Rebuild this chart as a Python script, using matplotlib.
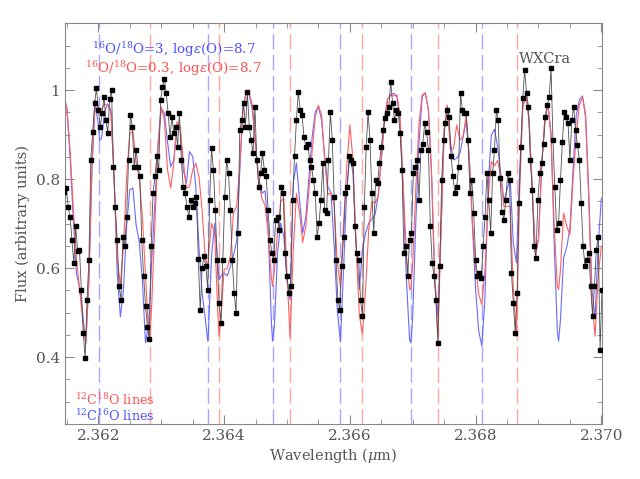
import matplotlib
matplotlib.use('Agg')
import matplotlib.pyplot as plt
from matplotlib.ticker import MultipleLocator, FormatStrFormatter, FuncFormatter

plt.rcParams['font.family'] = 'DejaVu Serif'
plt.rcParams['mathtext.fontset'] = 'dejavuserif'

# line centres (micron)
c16o_lines = [2.362017, 2.363736, 2.364770, 2.365841, 2.366966, 2.368105]
c18o_lines = [2.362823, 2.363920, 2.365045, 2.366196, 2.367395, 2.368652]

# observed spectrum
data_wl = [
    2.36146, 2.36149, 2.36152, 2.36155, 2.36158, 2.36161, 2.36164, 2.36167, 2.36170, 2.36173,
    2.36176, 2.36179, 2.36182, 2.36185, 2.36188, 2.36191, 2.36194, 2.36197, 2.36200, 2.36203,
    2.36206, 2.36209, 2.36212, 2.36215, 2.36218, 2.36221, 2.36224, 2.36227, 2.36230, 2.36233,
    2.36236, 2.36239, 2.36242, 2.36245, 2.36248, 2.36251, 2.36254, 2.36257, 2.36260, 2.36263,
    2.36266, 2.36269, 2.36272, 2.36275, 2.36278, 2.36281, 2.36284, 2.36287, 2.36290, 2.36293,
    2.36296, 2.36299, 2.36302, 2.36305, 2.36308, 2.36311, 2.36314, 2.36317, 2.36320, 2.36323,
    2.36326, 2.36329, 2.36332, 2.36335, 2.36338, 2.36341, 2.36344, 2.36347, 2.36350, 2.36353,
    2.36356, 2.36359, 2.36362, 2.36365, 2.36368, 2.36371, 2.36374, 2.36377, 2.36380, 2.36383,
    2.36386, 2.36389, 2.36392, 2.36395, 2.36398, 2.36401, 2.36404, 2.36407, 2.36410, 2.36413,
    2.36416, 2.36419, 2.36422, 2.36425, 2.36428, 2.36431, 2.36434, 2.36437, 2.36440, 2.36443,
    2.36446, 2.36449, 2.36452, 2.36455, 2.36458, 2.36461, 2.36464, 2.36467, 2.36470, 2.36473,
    2.36476, 2.36479, 2.36482, 2.36485, 2.36488, 2.36491, 2.36494, 2.36497, 2.36500, 2.36503,
    2.36506, 2.36509, 2.36512, 2.36515, 2.36518, 2.36521, 2.36524, 2.36527, 2.36530, 2.36533,
    2.36536, 2.36539, 2.36542, 2.36545, 2.36548, 2.36551, 2.36554, 2.36557, 2.36560, 2.36563,
    2.36566, 2.36569, 2.36572, 2.36575, 2.36578, 2.36581, 2.36584, 2.36587, 2.36590, 2.36593,
    2.36596, 2.36599, 2.36602, 2.36605, 2.36608, 2.36611, 2.36614, 2.36617, 2.36620, 2.36623,
    2.36626, 2.36629, 2.36632, 2.36635, 2.36638, 2.36641, 2.36644, 2.36647, 2.36650, 2.36653,
    2.36656, 2.36659, 2.36662, 2.36665, 2.36668, 2.36671, 2.36674, 2.36677, 2.36680, 2.36683,
    2.36686, 2.36689, 2.36692, 2.36695, 2.36698, 2.36701, 2.36704, 2.36707, 2.36710, 2.36713,
    2.36716, 2.36719, 2.36722, 2.36725, 2.36728, 2.36731, 2.36734, 2.36737, 2.36740, 2.36743,
    2.36746, 2.36749, 2.36752, 2.36755, 2.36758, 2.36761, 2.36764, 2.36767, 2.36770, 2.36773,
    2.36776, 2.36779, 2.36782, 2.36785, 2.36788, 2.36791, 2.36794, 2.36797, 2.36800, 2.36803,
    2.36806, 2.36809, 2.36812, 2.36815, 2.36818, 2.36821, 2.36824, 2.36827, 2.36830, 2.36833,
    2.36836, 2.36839, 2.36842, 2.36845, 2.36848, 2.36851, 2.36854, 2.36857, 2.36860, 2.36863,
    2.36866, 2.36869, 2.36872, 2.36875, 2.36878, 2.36881, 2.36884, 2.36887, 2.36890, 2.36893,
    2.36896, 2.36899, 2.36902, 2.36905, 2.36908, 2.36911, 2.36914, 2.36917, 2.36920, 2.36923,
    2.36926, 2.36929, 2.36932, 2.36935, 2.36938, 2.36941, 2.36944, 2.36947, 2.36950, 2.36953,
    2.36956, 2.36959, 2.36962, 2.36965, 2.36968, 2.36971, 2.36974, 2.36977, 2.36980, 2.36983,
    2.36986, 2.36989, 2.36992, 2.36995, 2.36998, 2.37001]
data_flux = [
    0.772, 0.780, 0.738, 0.716, 0.664, 0.611, 0.694, 0.638, 0.641, 0.552,
    0.455, 0.398, 0.529, 0.619, 0.843, 0.907, 0.970, 1.005, 0.955, 0.918,
    0.948, 0.985, 0.933, 0.903, 0.980, 1.000, 0.828, 0.738, 0.664, 0.559,
    0.529, 0.671, 0.649, 0.716, 0.843, 0.944, 0.918, 0.828, 0.866, 0.828,
    0.806, 0.664, 0.582, 0.515, 0.469, 0.440, 0.649, 0.768, 0.806, 0.851,
    0.821, 0.978, 1.007, 1.026, 0.993, 0.948, 0.895, 0.940, 0.903, 0.918,
    0.873, 0.948, 0.843, 0.783, 0.768, 0.738, 0.716, 0.753, 0.738, 0.746,
    0.761, 0.620, 0.505, 0.600, 0.627, 0.604, 0.552, 0.753, 0.869, 0.821,
    0.731, 0.619, 0.522, 0.477, 0.619, 0.761, 0.843, 0.813, 0.731, 0.619,
    0.544, 0.499, 0.679, 0.911, 0.933, 0.970, 0.918, 0.996, 0.918, 0.888,
    0.858, 0.963, 0.843, 0.783, 0.813, 0.858, 0.821, 0.806, 0.731, 0.664,
    0.634, 0.619, 0.709, 0.716, 0.686, 0.783, 0.768, 0.634, 0.582, 0.544,
    0.559, 0.753, 0.851, 0.933, 0.996, 0.955, 0.944, 0.895, 0.873, 0.880,
    0.843, 0.828, 0.798, 0.768, 0.671, 0.701, 0.753, 0.836, 0.731, 0.724,
    0.843, 0.951, 0.888, 0.760, 0.619, 0.529, 0.507, 0.604, 0.671, 0.768,
    0.783, 0.851, 0.843, 0.836, 0.694, 0.634, 0.619, 0.529, 0.492, 0.738,
    0.873, 0.951, 0.888, 0.768, 0.679, 0.798, 0.791, 0.836, 0.873, 0.910,
    0.937, 0.948, 0.963, 1.019, 0.970, 0.933, 0.955, 0.948, 0.903, 0.821,
    0.634, 0.649, 0.582, 0.664, 0.679, 0.813, 0.828, 0.843, 0.753, 0.866,
    0.880, 0.925, 0.907, 0.866, 0.694, 0.611, 0.582, 0.529, 0.432, 0.604,
    0.798, 0.888, 0.925, 0.955, 0.940, 0.851, 0.806, 0.768, 0.783, 0.828,
    0.993, 0.955, 0.948, 0.948, 0.888, 0.768, 0.798, 0.724, 0.619, 0.582,
    0.589, 0.578, 0.649, 0.716, 0.813, 0.753, 0.679, 0.813, 0.866, 0.955,
    0.933, 0.802, 0.727, 0.709, 0.753, 0.813, 0.798, 0.589, 0.522, 0.455,
    0.544, 0.746, 0.873, 0.982, 1.045, 0.993, 0.963, 0.843, 0.776, 0.649,
    0.623, 0.753, 0.813, 0.836, 0.880, 0.940, 0.967, 0.985, 1.049, 0.888,
    0.783, 0.686, 0.701, 0.798, 0.884, 0.951, 0.940, 0.925, 0.843, 0.933,
    0.963, 0.910, 0.877, 0.843, 0.746, 0.649, 0.604, 0.619, 0.634, 0.559,
    0.492, 0.559, 0.641, 0.671, 0.417, 0.552]

# synthetic spectra
model_wl = [
    2.36145, 2.36150, 2.36155, 2.36160, 2.36165, 2.36170, 2.36175, 2.36180, 2.36185, 2.36190,
    2.36195, 2.36200, 2.36202, 2.36205, 2.36210, 2.36215, 2.36220, 2.36225, 2.36230, 2.36235,
    2.36240, 2.36245, 2.36250, 2.36255, 2.36260, 2.36265, 2.36270, 2.36275, 2.36280, 2.36282,
    2.36285, 2.36290, 2.36295, 2.36300, 2.36305, 2.36310, 2.36315, 2.36320, 2.36325, 2.36330,
    2.36335, 2.36340, 2.36345, 2.36350, 2.36355, 2.36360, 2.36365, 2.36370, 2.36374, 2.36375,
    2.36380, 2.36385, 2.36390, 2.36392, 2.36395, 2.36400, 2.36405, 2.36410, 2.36415, 2.36420,
    2.36425, 2.36430, 2.36435, 2.36440, 2.36445, 2.36450, 2.36455, 2.36460, 2.36465, 2.36470,
    2.36475, 2.36477, 2.36480, 2.36485, 2.36490, 2.36495, 2.36500, 2.36505, 2.36510, 2.36515,
    2.36520, 2.36525, 2.36530, 2.36535, 2.36540, 2.36545, 2.36550, 2.36555, 2.36560, 2.36565,
    2.36570, 2.36575, 2.36580, 2.36585, 2.36590, 2.36595, 2.36600, 2.36605, 2.36610, 2.36615,
    2.36620, 2.36625, 2.36630, 2.36635, 2.36640, 2.36645, 2.36650, 2.36655, 2.36660, 2.36665,
    2.36670, 2.36675, 2.36680, 2.36685, 2.36690, 2.36695, 2.36697, 2.36700, 2.36705, 2.36710,
    2.36715, 2.36720, 2.36725, 2.36730, 2.36735, 2.36740, 2.36745, 2.36750, 2.36755, 2.36760,
    2.36765, 2.36770, 2.36775, 2.36780, 2.36785, 2.36790, 2.36795, 2.36800, 2.36805, 2.36810,
    2.36815, 2.36820, 2.36825, 2.36830, 2.36835, 2.36840, 2.36845, 2.36850, 2.36855, 2.36860,
    2.36865, 2.36870, 2.36875, 2.36880, 2.36885, 2.36890, 2.36895, 2.36900, 2.36905, 2.36910,
    2.36915, 2.36920, 2.36925, 2.36930, 2.36932, 2.36935, 2.36940, 2.36945, 2.36950, 2.36955,
    2.36960, 2.36965, 2.36970, 2.36975, 2.36980, 2.36985, 2.36990, 2.36995, 2.37000]
model_ratio3 = [
    0.987, 0.959, 0.851, 0.716, 0.589, 0.558, 0.500, 0.429, 0.574, 0.828,
    0.970, 0.922, 0.887, 0.892, 0.951, 0.969, 0.955, 0.806, 0.589, 0.491,
    0.552, 0.694, 0.776, 0.780, 0.698, 0.660, 0.574, 0.432, 0.477, 0.529,
    0.619, 0.750, 0.881, 0.959, 0.948, 0.884, 0.828, 0.843, 0.922, 0.914,
    0.821, 0.791, 0.862, 0.851, 0.783, 0.649, 0.544, 0.488, 0.436, 0.455,
    0.627, 0.701, 0.612, 0.574, 0.582, 0.589, 0.583, 0.604, 0.630, 0.660,
    0.821, 0.963, 0.995, 0.989, 0.955, 0.881, 0.802, 0.768, 0.774, 0.694,
    0.485, 0.436, 0.470, 0.634, 0.701, 0.671, 0.571, 0.529, 0.791, 0.836,
    0.754, 0.679, 0.716, 0.806, 0.895, 0.951, 0.963, 0.933, 0.851, 0.783,
    0.770, 0.650, 0.507, 0.434, 0.597, 0.776, 0.856, 0.813, 0.649, 0.552,
    0.641, 0.679, 0.701, 0.710, 0.720, 0.761, 0.843, 0.933, 0.979, 0.990,
    0.993, 0.984, 0.925, 0.761, 0.574, 0.440, 0.432, 0.492, 0.709, 0.881,
    0.985, 0.994, 0.955, 0.806, 0.574, 0.492, 0.686, 0.910, 0.966, 0.881,
    0.843, 0.847, 0.858, 0.894, 0.931, 0.847, 0.694, 0.552, 0.458, 0.425,
    0.537, 0.787, 0.899, 0.912, 0.873, 0.813, 0.752, 0.776, 0.802, 0.656,
    0.612, 0.817, 0.963, 0.991, 0.933, 0.780, 0.638, 0.664, 0.828, 0.933,
    0.969, 0.903, 0.656, 0.458, 0.436, 0.485, 0.623, 0.647, 0.690, 0.821,
    0.942, 0.978, 0.987, 0.944, 0.768, 0.552, 0.488, 0.653, 0.757]
model_ratio03 = [
    0.987, 0.959, 0.866, 0.739, 0.623, 0.556, 0.485, 0.432, 0.574, 0.843,
    0.978, 0.959, 0.955, 0.957, 0.969, 0.967, 0.949, 0.806, 0.619, 0.563,
    0.649, 0.806, 0.903, 0.907, 0.839, 0.802, 0.716, 0.582, 0.451, 0.440,
    0.522, 0.701, 0.873, 0.963, 0.933, 0.821, 0.780, 0.836, 0.929, 0.919,
    0.843, 0.780, 0.783, 0.821, 0.836, 0.806, 0.731, 0.623, 0.604, 0.627,
    0.701, 0.679, 0.500, 0.447, 0.488, 0.597, 0.600, 0.627, 0.724, 0.739,
    0.828, 0.955, 0.993, 0.994, 0.966, 0.873, 0.798, 0.757, 0.742, 0.679,
    0.582, 0.559, 0.597, 0.679, 0.750, 0.757, 0.589, 0.444, 0.641, 0.768,
    0.724, 0.658, 0.694, 0.776, 0.862, 0.940, 0.966, 0.944, 0.843, 0.765,
    0.770, 0.740, 0.615, 0.559, 0.701, 0.825, 0.922, 0.843, 0.649, 0.496,
    0.451, 0.552, 0.686, 0.750, 0.746, 0.761, 0.843, 0.933, 0.979, 0.988,
    0.987, 0.989, 0.940, 0.783, 0.627, 0.553, 0.552, 0.612, 0.783, 0.925,
    0.989, 0.994, 0.955, 0.813, 0.582, 0.447, 0.675, 0.910, 0.966, 0.866,
    0.869, 0.922, 0.888, 0.895, 0.942, 0.847, 0.701, 0.604, 0.541, 0.518,
    0.597, 0.757, 0.839, 0.830, 0.842, 0.806, 0.739, 0.739, 0.739, 0.552,
    0.447, 0.768, 0.959, 0.990, 0.933, 0.780, 0.630, 0.664, 0.828, 0.933,
    0.969, 0.895, 0.694, 0.559, 0.552, 0.597, 0.724, 0.694, 0.675, 0.798,
    0.897, 0.966, 0.985, 0.937, 0.754, 0.526, 0.447, 0.585, 0.649]

grey = '#555555'
spine = '#888888'

fig = plt.figure(figsize=(6.4, 4.79), dpi=100)
ax = fig.add_axes([0.1016, 0.1148, 0.839, 0.8365])

for w in c16o_lines:
    ax.axvline(w, color='#a8a8ff', lw=1, ls=(0, (11, 4)), zorder=1)
for w in c18o_lines:
    ax.axvline(w, color='#ffa8a8', lw=1, ls=(0, (11, 4)), zorder=1)

ax.plot(model_wl, model_ratio3, color='#6a6aff', lw=0.8, zorder=2)
ax.plot(model_wl, model_ratio03, color='#ff6060', lw=0.8, zorder=2)
ax.plot(data_wl, data_flux, color='#505050', lw=0.6, marker='s', ms=2.7,
        mfc='k', mec='k', zorder=3)

ax.text(2.36320, 1.080, r'$^{16}$O/$^{18}$O=3, log$\epsilon$(O)=8.7',
        color='#5050ff', fontsize=9.7, ha='center', va='baseline')
ax.text(2.36320, 1.038, r'$^{16}$O/$^{18}$O=0.3, log$\epsilon$(O)=8.7',
        color='#ff5050', fontsize=9.7, ha='center', va='baseline')
ax.text(2.36869, 1.060, 'WXCra', color=grey, fontsize=10.5, va='baseline')
ax.text(2.361625, 0.293, r'$^{12}$C$^{18}$O lines', color='#ff5050',
        fontsize=9.2, va='baseline')
ax.text(2.361625, 0.256, r'$^{12}$C$^{16}$O lines', color='#5050ff',
        fontsize=9.2, va='baseline')

ax.set_xlim(2.36147, 2.37001)
ax.set_ylim(0.25, 1.15)
ax.xaxis.set_major_locator(MultipleLocator(0.002))
ax.xaxis.set_minor_locator(MultipleLocator(0.0005))
ax.yaxis.set_major_locator(MultipleLocator(0.2))
ax.yaxis.set_minor_locator(MultipleLocator(0.05))
ax.xaxis.set_major_formatter(FormatStrFormatter('%.3f'))
ax.yaxis.set_major_formatter(FuncFormatter(lambda v, p: '%g' % round(v, 2)))
ax.tick_params(which='both', direction='in', top=True, right=True,
               color=spine, labelcolor=grey, labelsize=11)
ax.tick_params(which='major', length=6.5)
ax.tick_params(which='minor', length=3.5)
for s in ax.spines.values():
    s.set_color(spine)

ax.set_xlabel(r'Wavelength ($\mu$m)', color=grey, fontsize=10.5, labelpad=2)
ax.set_ylabel('Flux (arbitrary units)', color=grey, fontsize=10.5)

fig.savefig('out.png', dpi=100)
